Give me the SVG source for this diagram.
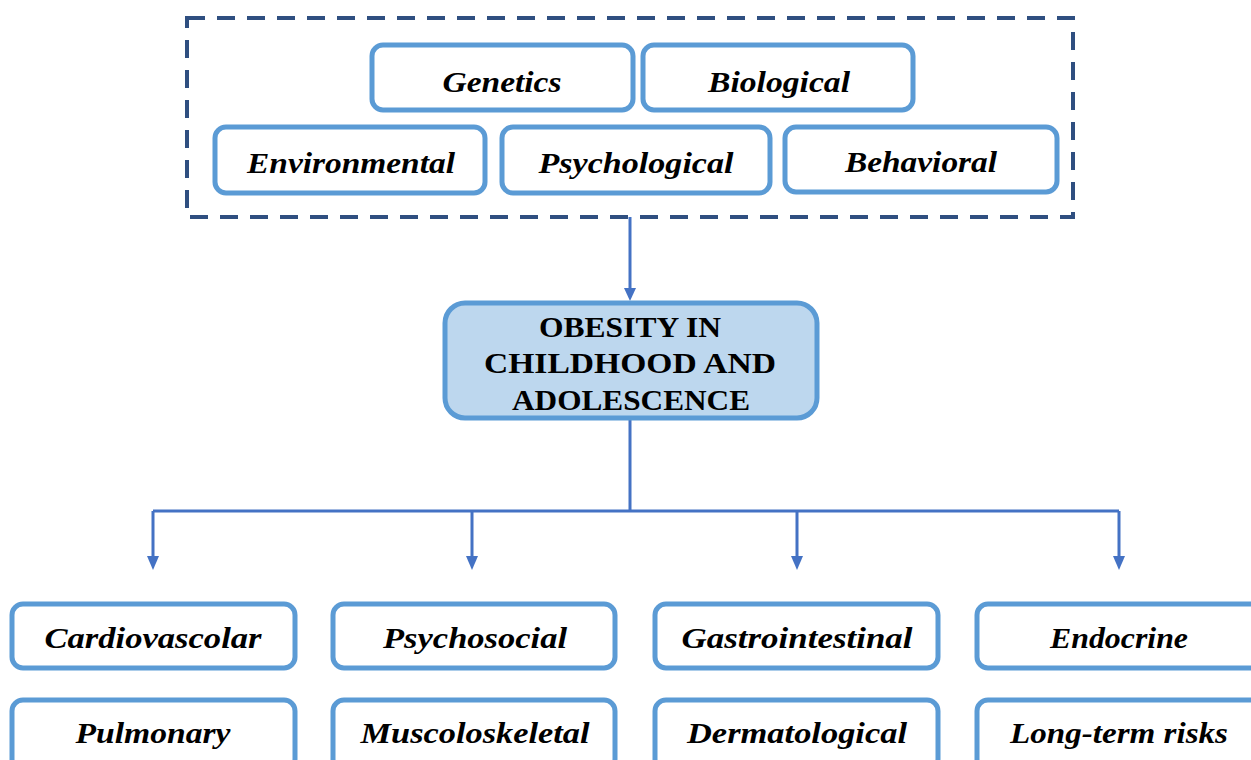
<svg xmlns="http://www.w3.org/2000/svg" width="1251" height="760" viewBox="0 0 1251 760">
<style>
.box{fill:#ffffff;stroke:#5B9BD5;stroke-width:5}
.main{fill:#BDD7EE;stroke:#5B9BD5;stroke-width:5}
.lbl{font-family:"Liberation Serif",serif;font-style:italic;font-weight:bold;font-size:30px;fill:#000;text-anchor:middle}
.mlbl{font-family:"Liberation Serif",serif;font-weight:bold;font-size:30px;fill:#000;text-anchor:middle}
.con{fill:none;stroke:#4472C4;stroke-width:3}
.dash{fill:none;stroke:#2F4F80;stroke-width:4;stroke-dasharray:18 12}
</style>
<defs>
<marker id="arr" markerWidth="12" markerHeight="12" refX="6" refY="10" orient="auto-start-reverse" markerUnits="userSpaceOnUse" viewBox="0 0 12 12">
<path d="M0,0 L12,0 L6,12 Z" fill="#4472C4" transform="rotate(-90 6 6)"/>
</marker>
</defs>
<rect width="1251" height="760" fill="#ffffff"/>
<g id="factors-group">
<rect class="dash" x="187" y="18" width="886" height="199"/>
</g>
<g id="connectors">
<path class="con" d="M630,217 V290"/>
<path d="M624,288 L636,288 L630,301 Z" fill="#4472C4"/>
<path class="con" d="M630,418 V511 M153,511 H1119 M153,511 V558 M472,511 V558 M797,511 V558 M1119,511 V558"/>
<path d="M147,556 L159,556 L153,570 Z" fill="#4472C4"/>
<path d="M466,556 L478,556 L472,570 Z" fill="#4472C4"/>
<path d="M791,556 L803,556 L797,570 Z" fill="#4472C4"/>
<path d="M1113,556 L1125,556 L1119,570 Z" fill="#4472C4"/>
</g>
<g id="genetics"><rect class="box" x="372" y="45" width="261" height="65" rx="11"/><text class="lbl" x="502" y="92" textLength="119" lengthAdjust="spacingAndGlyphs">Genetics</text></g>
<g id="biological"><rect class="box" x="643" y="45" width="270" height="65" rx="11"/><text class="lbl" x="779" y="92" textLength="142" lengthAdjust="spacingAndGlyphs">Biological</text></g>
<g id="environmental"><rect class="box" x="215" y="127" width="270" height="66" rx="11"/><text class="lbl" x="351" y="173" textLength="208" lengthAdjust="spacingAndGlyphs">Environmental</text></g>
<g id="psychological"><rect class="box" x="502" y="127" width="268" height="66" rx="11"/><text class="lbl" x="636" y="173" textLength="195" lengthAdjust="spacingAndGlyphs">Psychological</text></g>
<g id="behavioral"><rect class="box" x="785" y="127" width="272" height="65" rx="11"/><text class="lbl" x="921" y="172" textLength="152" lengthAdjust="spacingAndGlyphs">Behavioral</text></g>
<g id="obesity"><rect class="main" x="445" y="303" width="372" height="115" rx="20"/>
<text class="mlbl" x="630" y="337" textLength="182" lengthAdjust="spacingAndGlyphs">OBESITY IN</text>
<text class="mlbl" x="630" y="373" textLength="292" lengthAdjust="spacingAndGlyphs">CHILDHOOD AND</text>
<text class="mlbl" x="631" y="410" textLength="238" lengthAdjust="spacingAndGlyphs">ADOLESCENCE</text></g>
<g id="cardiovascolar"><rect class="box" x="12" y="604" width="283" height="64" rx="11"/><text class="lbl" x="153" y="648" textLength="217" lengthAdjust="spacingAndGlyphs">Cardiovascolar</text></g>
<g id="psychosocial"><rect class="box" x="333" y="604" width="282" height="64" rx="11"/><text class="lbl" x="475" y="648" textLength="184" lengthAdjust="spacingAndGlyphs">Psychosocial</text></g>
<g id="gastrointestinal"><rect class="box" x="655" y="604" width="283" height="64" rx="11"/><text class="lbl" x="797" y="648" textLength="231" lengthAdjust="spacingAndGlyphs">Gastrointestinal</text></g>
<g id="endocrine"><rect class="box" x="977" y="604" width="290" height="64" rx="11"/><text class="lbl" x="1119" y="648" textLength="138" lengthAdjust="spacingAndGlyphs">Endocrine</text></g>
<g id="pulmonary"><rect class="box" x="12" y="700" width="283" height="70" rx="11"/><text class="lbl" x="153" y="743" textLength="155" lengthAdjust="spacingAndGlyphs">Pulmonary</text></g>
<g id="muscoloskeletal"><rect class="box" x="333" y="700" width="282" height="70" rx="11"/><text class="lbl" x="475" y="743" textLength="229" lengthAdjust="spacingAndGlyphs">Muscoloskeletal</text></g>
<g id="dermatological"><rect class="box" x="655" y="700" width="283" height="70" rx="11"/><text class="lbl" x="797" y="743" textLength="220" lengthAdjust="spacingAndGlyphs">Dermatological</text></g>
<g id="long-term-risks"><rect class="box" x="977" y="700" width="290" height="70" rx="11"/><text class="lbl" x="1119" y="743" textLength="218" lengthAdjust="spacingAndGlyphs">Long-term risks</text></g>
</svg>
